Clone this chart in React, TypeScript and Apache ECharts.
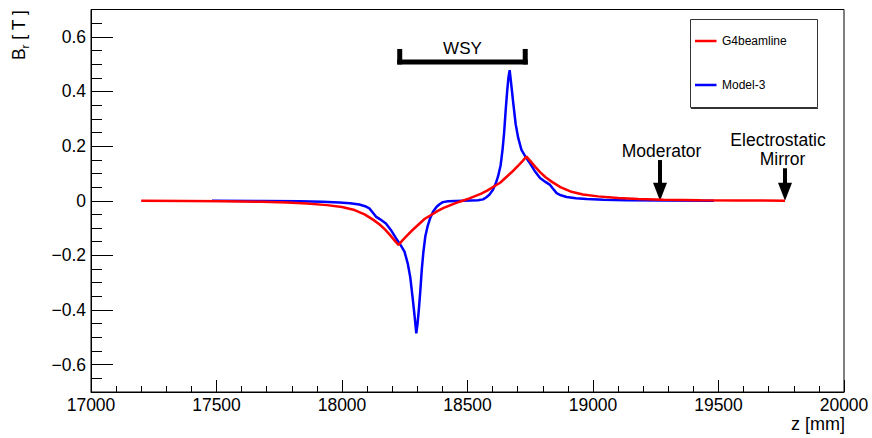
import React, { useEffect, useRef } from "react";
import * as echarts from "echarts";

// G4beamline radial field along the beam axis
const zG4 = [
  17200, 17380, 17530, 17680, 17780, 17860, 17940, 18000, 18050, 18090,
  18125, 18150, 18170, 18190, 18210, 18225, 18240, 18255, 18280, 18305,
  18330, 18355, 18380, 18405, 18430, 18455, 18480, 18505, 18530, 18555,
  18580, 18605, 18630, 18655, 18680, 18705, 18720, 18735, 18750, 18770,
  18790, 18810, 18835, 18870, 18910, 18960, 19020, 19100, 19180, 19280,
  19430, 19580, 19765,
];
const brG4 = [
  -0.0003, -0.001, -0.002, -0.004, -0.0065, -0.01, -0.016, -0.023, -0.034, -0.05,
  -0.07, -0.087, -0.104, -0.124, -0.146, -0.162, -0.146, -0.131, -0.108, -0.087,
  -0.066, -0.052, -0.038, -0.026, -0.017, -0.008, 0, 0.008, 0.017, 0.026,
  0.038, 0.052, 0.066, 0.087, 0.108, 0.131, 0.146, 0.162, 0.146, 0.124,
  0.104, 0.087, 0.07, 0.05, 0.034, 0.023, 0.016, 0.01, 0.0065, 0.004,
  0.002, 0.001, 0.0003,
];

// Model-3 radial field
const zModel3 = [
  17482, 17682, 17832, 17922, 17989, 18032, 18069, 18092, 18109, 18124,
  18135, 18152, 18175, 18197, 18215, 18232, 18249, 18262, 18272, 18282,
  18289, 18296, 18301, 18306, 18312, 18318, 18324, 18332, 18342, 18352,
  18364, 18377, 18390, 18402, 18422, 18452, 18482,
  18512, 18542, 18562, 18574, 18587, 18600, 18612, 18622, 18632, 18640,
  18646, 18652, 18658, 18663, 18668, 18675, 18682, 18692, 18702, 18715,
  18732, 18749, 18767, 18789, 18812, 18829, 18840, 18855, 18872, 18895,
  18932, 18975, 19042, 19132, 19282, 19482,
];
const brModel3 = [
  -0.0003, -0.001, -0.002, -0.004, -0.006, -0.009, -0.014, -0.02, -0.028, -0.045,
  -0.058, -0.068, -0.083, -0.11, -0.137, -0.16, -0.186, -0.23, -0.28, -0.36,
  -0.42, -0.485, -0.45, -0.4, -0.33, -0.25, -0.19, -0.13, -0.09, -0.062,
  -0.038, -0.022, -0.012, -0.005, -0.002, -0.001, 0,
  0.001, 0.002, 0.005, 0.012, 0.022, 0.038, 0.062, 0.09, 0.13, 0.19,
  0.25, 0.33, 0.4, 0.45, 0.478, 0.42, 0.36, 0.28, 0.23, 0.186,
  0.16, 0.137, 0.11, 0.083, 0.068, 0.058, 0.045, 0.028, 0.02, 0.014,
  0.009, 0.006, 0.004, 0.002, 0.001, 0.0003,
];

// Axis ranges and labelled y values
const zRange = [17000, 20000];
const brRange = [-0.7, 0.7];
const yMajorValues = [-0.6, -0.4, -0.2, 0, 0.2, 0.4, 0.6];

// Annotations
const wsySpan = [18230, 18730];
const wsyLevel = 0.508;
const markers = [
  { z: 19267, top: 0.149, lines: ["Moderator"], dx: [1.5] },
  { z: 19765, top: 0.119, lines: ["Electrostatic", "Mirror"], dx: [-7, -2.5] },
];

const FONT = "'Liberation Sans', Arial, Helvetica, sans-serif";

export default function App() {
  const ref = useRef<HTMLDivElement>(null);

  useEffect(() => {
    const el = ref.current!;
    const chart = echarts.init(el, null, { renderer: "svg" });

    const fmtY = (v: number) => {
      const c = Math.round(v * 100);
      if (c % 20 !== 0 || Math.abs(c) > 60) return "";
      if (c === 0) return "0";
      const s = (Math.abs(c) / 100).toFixed(1);
      return c < 0 ? "\u2212" + s : s;
    };

    chart.setOption({
      animation: false,
      textStyle: { fontFamily: FONT },
      grid: {
        left: 91,
        right: 28,
        top: 9.5,
        bottom: 46,
        show: true,
        borderColor: "#000",
        borderWidth: 1,
        backgroundColor: "transparent",
      },
      xAxis: {
        type: "value",
        min: zRange[0],
        max: zRange[1],
        interval: 500,
        axisLine: { show: true, onZero: false, lineStyle: { color: "#000", width: 1 } },
        axisTick: { show: true, inside: true, length: 12, lineStyle: { color: "#000" } },
        minorTick: { show: true, splitNumber: 5, length: 6, lineStyle: { color: "#000" } },
        splitLine: { show: false },
        axisLabel: {
          color: "#000",
          fontSize: 17.5,
          fontFamily: FONT,
          margin: 4,
          showMaxLabel: true,
          showMinLabel: true,
          formatter: (v: number) => String(Math.round(v)),
        },
      },
      yAxis: [
        {
          type: "value",
          min: brRange[0],
          max: brRange[1],
          interval: 0.05,
          axisLine: { show: true, onZero: false, lineStyle: { color: "#000", width: 1 } },
          axisTick: { show: true, inside: true, length: 11, lineStyle: { color: "#000" } },
          splitLine: { show: false },
          axisLabel: {
            color: "#000",
            fontSize: 17.5,
            fontFamily: FONT,
            margin: 5,
            formatter: fmtY,
          },
        },
        {
          type: "value",
          min: brRange[0],
          max: brRange[1],
          position: "left",
          axisLine: { show: false, onZero: false },
          axisTick: {
            show: true,
            inside: true,
            length: 22,
            customValues: yMajorValues,
            lineStyle: { color: "#000" },
          },
          axisLabel: { show: false },
          splitLine: { show: false },
        },
      ],
      series: [
        {
          type: "line",
          name: "Model-3",
          data: zModel3.map((z, i) => [z, brModel3[i]]),
          showSymbol: false,
          symbol: "none",
          lineStyle: { color: "#0000ff", width: 2.5 },
          itemStyle: { color: "#0000ff" },
          z: 2,
        },
        {
          type: "line",
          name: "G4beamline",
          data: zG4.map((z, i) => [z, brG4[i]]),
          showSymbol: false,
          symbol: "none",
          lineStyle: { color: "#ff0000", width: 2.5 },
          itemStyle: { color: "#ff0000" },
          z: 3,
        },
      ],
    });

    const px = (z: number, v: number) =>
      chart.convertToPixel({ xAxisIndex: 0, yAxisIndex: 0 }, [z, v]) as number[];

    const graphics: any[] = [];

    // y axis title, rotated, with subscript r
    graphics.push({
      type: "group",
      x: 19,
      y: 60,
      rotation: Math.PI / 2,
      children: [
        { type: "text", x: 0, y: 0, style: { text: "B", font: `17.5px ${FONT}`, fill: "#000", textAlign: "left", textVerticalAlign: "middle" } },
        { type: "text", x: 11.5, y: 6, style: { text: "r", font: `11.5px ${FONT}`, fill: "#000", textAlign: "left", textVerticalAlign: "middle" } },
        { type: "text", x: 15.5, y: 0, style: { text: " [ T ]", font: `17.5px ${FONT}`, fill: "#000", textAlign: "left", textVerticalAlign: "middle" } },
      ],
    });

    // x axis title
    graphics.push({
      type: "text",
      x: 845,
      y: 423.5,
      style: { text: "z [mm]", font: `18px ${FONT}`, fill: "#000", textAlign: "right", textVerticalAlign: "middle" },
    });

    // WSY bracket
    const [bx1, by] = px(wsySpan[0], wsyLevel);
    const [bx2] = px(wsySpan[1], wsyLevel);
    const half = 2.5;
    graphics.push(
      { type: "line", shape: { x1: bx1 - half, y1: by, x2: bx2 + half, y2: by }, style: { stroke: "#000", lineWidth: 5, lineCap: "butt" } },
      { type: "line", shape: { x1: bx1, y1: by - 13, x2: bx1, y2: by + half }, style: { stroke: "#000", lineWidth: 5, lineCap: "butt" } },
      { type: "line", shape: { x1: bx2, y1: by - 13, x2: bx2, y2: by + half }, style: { stroke: "#000", lineWidth: 5, lineCap: "butt" } },
      {
        type: "text",
        x: (bx1 + bx2) / 2,
        y: by - 13.5,
        style: { text: "WSY", font: `17px ${FONT}`, fill: "#000", textAlign: "center", textVerticalAlign: "middle" },
      }
    );

    // Position markers with arrows
    markers.forEach((m) => {
      const [ax, ay0] = px(m.z, m.top);
      const [, tipY] = px(m.z, 0);
      const headLen = 18;
      const headHalf = 7;
      graphics.push(
        { type: "rect", shape: { x: ax - 2, y: ay0, width: 4, height: tipY - headLen - ay0 + 1 }, style: { fill: "#000" } },
        {
          type: "polygon",
          shape: { points: [[ax - headHalf, tipY - headLen], [ax + headHalf, tipY - headLen], [ax, tipY]] },
          style: { fill: "#000" },
        }
      );
      const n = m.lines.length;
      m.lines.forEach((t, i) => {
        graphics.push({
          type: "text",
          x: ax + m.dx[i],
          y: ay0 - 9.5 - (n - 1 - i) * 18.6,
          style: { text: t, font: `17.5px ${FONT}`, fill: "#000", textAlign: "center", textVerticalAlign: "middle" },
        });
      });
    });

    // Legend box
    const lg = { x: 690, y: 19, w: 127, h: 88 };
    graphics.push(
      { type: "rect", shape: { x: lg.x + 0.5, y: lg.y + 0.5, width: lg.w, height: lg.h }, style: { fill: "#fff", stroke: "#333", lineWidth: 1 } },
      { type: "line", shape: { x1: lg.x + 1, y1: lg.y + lg.h + 1.5, x2: lg.x + lg.w + 1, y2: lg.y + lg.h + 1.5 }, style: { stroke: "#333", lineWidth: 1 } },
      { type: "line", shape: { x1: 695, y1: 41, x2: 716.5, y2: 41 }, style: { stroke: "#ff0000", lineWidth: 2.5 } },
      { type: "text", x: 722, y: 41, style: { text: "G4beamline", font: `12px ${FONT}`, fill: "#000", textAlign: "left", textVerticalAlign: "middle" } },
      { type: "line", shape: { x1: 695, y1: 85, x2: 716.5, y2: 85 }, style: { stroke: "#0000ff", lineWidth: 2.5 } },
      { type: "text", x: 722, y: 85, style: { text: "Model-3", font: `12px ${FONT}`, fill: "#000", textAlign: "left", textVerticalAlign: "middle" } }
    );

    chart.setOption({ graphic: graphics });

    return () => chart.dispose();
  }, []);

  return (
    <div
      ref={ref}
      style={{ position: "fixed", left: 0, top: 0, width: 872, height: 438, background: "#fff" }}
    />
  );
}
